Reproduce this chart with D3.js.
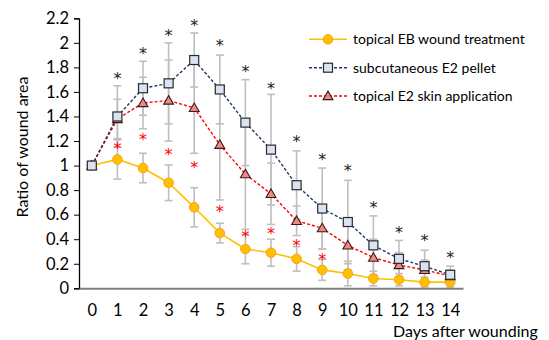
<!DOCTYPE html>
<html>
<head>
<meta charset="utf-8">
<script src="https://cdn.jsdelivr.net/npm/d3@7"></script>
<style>
  body { margin: 0; background: #fff; }
  svg { display: block; font-family: Lato, "Open Sans", sans-serif; }
</style>
</head>
<body>
<svg id="chart" width="549" height="340"></svg>
<script>
// days after wounding
const days = [0, 1, 2, 3, 4, 5, 6, 7, 8, 9, 10, 11, 12, 13, 14];
const yTicks = [0, 0.2, 0.4, 0.6, 0.8, 1, 1.2, 1.4, 1.6, 1.8, 2, 2.2];

// topical EB wound treatment
const ebMean = [1, 1.05, 0.98, 0.86, 0.66, 0.45, 0.32, 0.29, 0.24, 0.15, 0.12, 0.08, 0.07, 0.05, 0.05];
const ebErr  = [0, 0.16, 0.12, 0.145, 0.16, 0.08, 0.12, 0.11, 0.10, 0.085, 0.10, 0.06, 0.05, 0.04, 0.04];
// subcutaneous E2 pellet
const pelletMean = [1, 1.40, 1.63, 1.67, 1.86, 1.62, 1.35, 1.13, 0.84, 0.65, 0.54, 0.35, 0.24, 0.18, 0.11];
const pelletErr  = [0, 0.25, 0.22, 0.33, 0.22, 0.28, 0.35, 0.45, 0.28, 0.33, 0.34, 0.24, 0.15, 0.13, 0.07];
// topical E2 skin application
const skinMean = [1, 1.38, 1.51, 1.53, 1.47, 1.17, 0.93, 0.77, 0.55, 0.49, 0.35, 0.25, 0.19, 0.15, 0.10];
const skinErr  = [0, 0.16, 0.21, 0.33, 0.37, 0.45, 0.45, 0.25, 0.12, 0.17, 0.20, 0.15, 0.10, 0.08, 0.05];

// significance marks (height on the y scale, null = none)
const blackStars = [null, 1.73, 1.93, 2.08, 2.165, 2.0, 1.79, 1.65, 1.215, 1.07, 0.98, 0.68, 0.475, 0.41, 0.27];
const redStars   = [null, 1.16, 1.23, 1.11, 1.005, 0.646, 0.44, 0.467, 0.37, 0.258, null, null, null, null, null];

const svg = d3.select('#chart');

let x = d3.scalePoint().domain(days).range([79, 463]).padding(0.5);
let y = d3.scaleLinear().domain([0, 2.2]).range([288.3, 18.3]);

const series = [
  { name: 'topical EB wound treatment', mean: ebMean, err: ebErr, line: '#FFC000', dash: null, marker: 'circle', fill: '#FFC000', stroke: '#F4A11D' },
  { name: 'subcutaneous E2 pellet', mean: pelletMean, err: pelletErr, line: '#203864', dash: '3,2', marker: 'square', fill: '#DAE3F3', stroke: '#2a2a2a' },
  { name: 'topical E2 skin application', mean: skinMean, err: skinErr, line: '#FF0000', dash: '3,2', marker: 'triangle', fill: '#F08A80', stroke: '#3a1a1a' }
];

// y axis
let gY = svg.append('g')
  .attr('transform', 'translate(79,0)')
  .call(d3.axisLeft(y).tickValues(yTicks).tickSize(5).tickPadding(5).tickFormat((t) => String(+t.toFixed(1))));
gY.select('.domain').attr('stroke', '#000').attr('stroke-width', 1.3);
gY.selectAll('.tick line').attr('stroke', '#000');
gY.selectAll('.tick text').attr('font-size', 16.5).attr('fill', '#000').attr('font-family', 'Lato, sans-serif');

// error bars first so the lines sit on top
series.forEach((s) => {
  const eg = svg.append('g').attr('stroke', '#BFBFBF').attr('stroke-width', 1.6);
  days.forEach((d, i) => {
    if(!s.err[i]) return;
    const cx = x(d);
    const y1 = y(s.mean[i] + s.err[i]);
    const y2 = y(Math.max(0, s.mean[i] - s.err[i]));
    eg.append('line').attr('x1', cx).attr('x2', cx).attr('y1', y1).attr('y2', y2);
    eg.append('line').attr('x1', cx - 4).attr('x2', cx + 4).attr('y1', y1).attr('y2', y1);
    eg.append('line').attr('x1', cx - 4).attr('x2', cx + 4).attr('y1', y2).attr('y2', y2);
  });
});

// x axis
let gX = svg.append('g')
  .attr('transform', 'translate(0,288.3)')
  .call(d3.axisBottom(x).tickSize(0).tickPadding(16));
gX.select('.domain').attr('stroke', '#7F7F7F').attr('stroke-width', 2);
gX.selectAll('.tick text').attr('font-size', 16.5).attr('fill', '#000').attr('font-family', 'Lato, sans-serif');

const line = d3.line().x((d, i) => x(days[i])).y((d) => y(d));

function drawMarker(g, type, cx, cy, s) {
  if(type === 'circle') {
    g.append('circle').attr('cx', cx).attr('cy', cy).attr('r', 4.8)
      .attr('fill', s.fill).attr('stroke', s.stroke).attr('stroke-width', 1);
  } else if(type === 'square') {
    g.append('rect').attr('x', cx - 4.5).attr('y', cy - 4.5).attr('width', 9).attr('height', 9)
      .attr('fill', s.fill).attr('stroke', s.stroke).attr('stroke-width', 1.2);
  } else {
    g.append('path').attr('d', d3.symbol().type(d3.symbolTriangle).size(42)())
      .attr('transform', 'translate(' + cx + ',' + (cy + 0.8) + ')')
      .attr('fill', s.fill).attr('stroke', s.stroke).attr('stroke-width', 1.1);
  }
}

// lines, then markers on top
[series[0], series[2], series[1]].forEach((s) => {
  svg.append('path')
    .datum(s.mean)
    .attr('d', line)
    .attr('fill', 'none')
    .attr('stroke', s.line)
    .attr('stroke-width', s.dash ? 1.4 : 1.6)
    .attr('stroke-dasharray', s.dash);
});
[series[0], series[2], series[1]].forEach((s) => {
  const mg = svg.append('g');
  s.mean.forEach((v, i) => drawMarker(mg, s.marker, x(days[i]), y(v), s));
});

// significance asterisks
function drawStars(vals, color) {
  svg.append('g').selectAll('text')
    .data(days.filter((d, i) => vals[i] !== null))
    .enter()
    .append('text')
    .attr('x', (d) => x(d))
    .attr('y', (d) => y(vals[days.indexOf(d)]) + 8)
    .attr('text-anchor', 'middle')
    .attr('font-size', 16)
    .attr('font-family', 'DejaVu Sans, sans-serif')
    .attr('fill', color)
    .text('*');
}
drawStars(blackStars, '#1a1a1a');
drawStars(redStars, '#FF0000');

// axis titles
svg.append('text')
  .attr('transform', 'translate(28,147) rotate(-90)')
  .attr('text-anchor', 'middle')
  .attr('font-size', 16)
  .attr('fill', '#000')
  .text('Ratio of wound area');

svg.append('text')
  .attr('x', 393)
  .attr('y', 337)
  .attr('font-size', 16)
  .attr('fill', '#000')
  .text('Days after wounding');

// legend
const legendY = [39.3, 67.7, 96];
series.forEach((s, i) => {
  const lg = svg.append('g');
  lg.append('line')
    .attr('x1', 309).attr('x2', 347).attr('y1', legendY[i]).attr('y2', legendY[i])
    .attr('stroke', s.line).attr('stroke-width', s.dash ? 1.4 : 1.6)
    .attr('stroke-dasharray', s.dash);
  drawMarker(lg, s.marker, 328, legendY[i], s);
  lg.append('text')
    .attr('x', 353)
    .attr('y', legendY[i] + 5)
    .attr('font-size', 14)
    .attr('fill', '#000')
    .text(s.name);
});
</script>
</body>
</html>
